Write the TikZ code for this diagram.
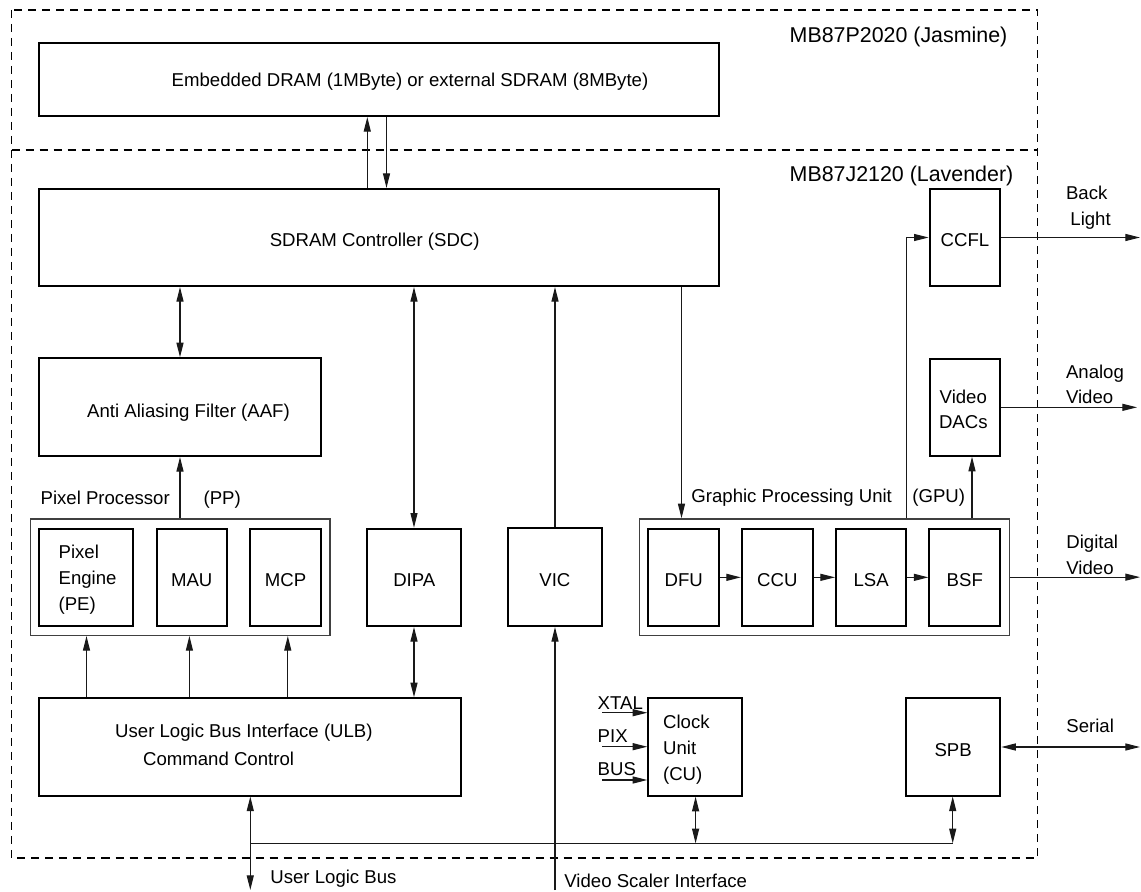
\documentclass[tikz,border=0pt]{standalone}
\usepackage{fontspec}
\setmainfont{Liberation Sans}
\usetikzlibrary{arrows.meta}
\newcommand{\blk}[7][box]{\node[#1, minimum width={(#5-#3)*0.5pt}, minimum height={(#6-#4)*0.5pt}] (#2) at ({(#3+#5)/2},{(#4+#6)/2}) {#7};}
\tikzset{
 box/.style={draw=black, line width=1pt, inner sep=0pt, font=\fontsize{9.3pt}{13pt}\selectfont, text height=9.2pt, text depth=0pt},
 frame/.style={draw=black!75, line width=0.7pt, inner sep=0pt},
 lbl/.style={inner sep=0pt, font=\fontsize{9.3pt}{13pt}\selectfont, text height=6.66pt, text depth=0pt, anchor=west},
 clbl/.style={lbl, anchor=center},
 chip/.style={lbl, font=\fontsize{10.7pt}{13pt}\selectfont, text height=7.66pt},
 wire/.style={draw=black!90, line width=0.55pt},
 arr/.style={wire, -{Triangle[length=7.3pt,width=3.5pt]}},
 dbl/.style={wire, {Triangle[length=7.3pt,width=3.5pt]}-{Triangle[length=7.3pt,width=3.5pt]}},
 dashbox/.style={draw=black, line width=0.6pt, dash pattern=on 4pt off 3pt},
}
\begin{document}
\begin{tikzpicture}[x=0.5pt,y=-0.5pt]
\useasboundingbox (0,0) rectangle (1141,892);
% chip outlines
\draw[dashbox] (11.5,10) rectangle (1037.5,858);
\draw[dashbox] (11.5,150) -- (1037.5,150);
\node[chip] (tJas) at (789.3,34.7) {MB87P2020 (Jasmine)};
\node[chip] (tLav) at (789.3,174) {MB87J2120 (Lavender)};
% blocks
\blk{emb}{39.4}{43.3}{719}{116}{}
\blk{sdc}{39.4}{189}{719}{286}{}
\blk{aaf}{39.4}{358.3}{320.7}{456}{}
\blk[frame]{pp}{30.2}{519}{329.9}{635.3}{}
\blk{pe}{39.4}{528.7}{133.2}{626}{}
\blk{mau}{156.5}{528.7}{227}{626}{MAU}
\blk{mcp}{250.3}{528.7}{320.7}{626}{MCP}
\blk{dipa}{367.4}{528.7}{461.2}{626}{DIPA}
\blk{vic}{507.8}{528.5}{602}{626}{VIC}
\blk[frame]{gpu}{639.5}{519}{1009.4}{635.3}{}
\blk{dfu}{648.2}{528.7}{719.3}{626}{DFU}
\blk{ccu}{741.9}{528.7}{812.7}{626}{CCU}
\blk{lsa}{836}{528.7}{906.4}{626}{LSA}
\blk{bsf}{929.4}{528.7}{1000.2}{626}{BSF}
\blk{ulb}{39.4}{698.3}{461.2}{795.5}{}
\blk{cu}{648.3}{698.3}{742.3}{795.7}{}
\blk{spb}{906}{698.5}{1000.2}{795.5}{SPB}
\blk{ccfl}{929.6}{189}{1000.4}{286}{CCFL}
\blk{dacs}{929.6}{359}{1000.4}{455.7}{}
% texts
\node[clbl] (tEmb) at (410,80) {Embedded DRAM (1MByte) or external SDRAM (8MByte)};
\node[clbl] (tSdc) at (374.7,240) {SDRAM Controller (SDC)};
\node[clbl] (tAaf) at (188.5,411) {Anti Aliasing Filter (AAF)};
\node[lbl] (tPP) at (40.2,497.7) {Pixel Processor};
\node[lbl] (tPP2) at (203.2,497.7) {(PP)};
\node[lbl] (tGPU) at (691,496) {Graphic Processing Unit};
\node[lbl] (tGPU2) at (912,496) {(GPU)};
\node[lbl] (tPE1) at (58.2,551.7) {Pixel};
\node[lbl] (tPE2) at (58.2,578.3) {Engine};
\node[lbl] (tPE3) at (58.2,604.3) {(PE)};
\node[lbl] (tUlb1) at (114.8,730.7) {User Logic Bus Interface (ULB)};
\node[lbl] (tUlb2) at (142.7,759.3) {Command Control};
\node[lbl] (tCu1) at (662.7,721.7) {Clock};
\node[lbl] (tCu2) at (662.7,748.3) {Unit};
\node[lbl] (tCu3) at (662.7,774.3) {(CU)};
\node[lbl] (tXtal) at (597.3,702.5) {XTAL};
\node[lbl] (tPix) at (597.3,736) {PIX};
\node[lbl] (tBus) at (597.3,769) {BUS};
\node[clbl] (tDac1) at (963.3,396.7) {Video};
\node[clbl] (tDac2) at (963.3,421.7) {DACs};
\node[lbl] (tBack) at (1065.6,192.7) {Back};
\node[lbl] (tLight) at (1070,219) {Light};
\node[lbl] (tAna) at (1065.6,371.7) {Analog};
\node[lbl] (tAnaV) at (1065.6,397) {Video};
\node[lbl] (tDig) at (1066,542.3) {Digital};
\node[lbl] (tDigV) at (1066,567.7) {Video};
\node[lbl] (tSer) at (1066,725.7) {Serial};
\node[lbl] (tULBus) at (270,876.5) {User Logic Bus};
\node[lbl] (tVSI) at (564,880.5) {Video Scaler Interface};
% helper coordinates
\coordinate (cA) at (180,0);
\coordinate (cUp) at (367.3,0);
\coordinate (cDn) at (386.5,0);
\coordinate (cD) at (414,0);
\coordinate (cV) at (555,0);
\coordinate (cG) at (681.5,0);
\coordinate (cPE) at (86.5,0);
\coordinate (cMAU) at (189.4,0);
\coordinate (cMCP) at (287.8,0);
\coordinate (cU) at (250.3,0);
\coordinate (cC) at (695.6,0);
\coordinate (cS) at (952.7,0);
\coordinate (cF) at (906.4,0);
\coordinate (cDA) at (972,0);
\coordinate (bus) at (0,843.3);
\coordinate (bot) at (0,890);
\coordinate (rEnd) at (1140,0);
\coordinate (rEndA) at (1137,0);
\coordinate (inX) at (602.3,712.7);
\coordinate (inP) at (602.3,746.7);
\coordinate (inB) at (602.3,780);
% connectors
\draw[arr] (sdc.north -| cUp) -- (emb.south -| cUp);
\draw[arr] (emb.south -| cDn) -- (sdc.north -| cDn);
\draw[dbl] (sdc.south -| cA) -- (aaf.north -| cA);
\draw[arr] (pp.north -| cA) -- (aaf.south -| cA);
\draw[dbl] (sdc.south -| cD) -- (dipa.north -| cD);
\draw[arr] (vic.north -| cV) -- (sdc.south -| cV);
\draw[arr] (sdc.south -| cG) -- (gpu.north -| cG);
\draw[arr] (ulb.north -| cPE) -- (pp.south -| cPE);
\draw[arr] (ulb.north -| cMAU) -- (pp.south -| cMAU);
\draw[arr] (ulb.north -| cMCP) -- (pp.south -| cMCP);
\draw[dbl] (dipa.south -| cD) -- (ulb.north -| cD);
\draw[dbl] (ulb.south -| cU) -- (bot -| cU);
\draw[wire] (bus -| cU) -- (bus -| cS);
\draw[dbl] (cu.south -| cC) -- (bus -| cC);
\draw[dbl] (spb.south -| cS) -- (bus -| cS);
\draw[arr] (bot -| cV) -- (vic.south -| cV);
\draw[arr] (dfu) -- (ccu);
\draw[arr] (ccu) -- (lsa);
\draw[arr] (lsa) -- (bsf);
\draw[arr] (gpu.east) -- (gpu.east -| rEnd);
\draw[arr] (gpu.north -| cF) |- (ccfl.west);
\draw[arr] (gpu.north -| cDA) -- (dacs.south -| cDA);
\draw[arr] (ccfl.east) -- (ccfl.east -| rEnd);
\draw[arr] (dacs.east) -- (dacs.east -| rEndA);
\draw[dbl] (spb.east) -- (spb.east -| rEnd);
\draw[arr] (inX) -- (inX -| cu.west);
\draw[arr] (inP) -- (inP -| cu.west);
\draw[arr] (inB) -- (inB -| cu.west);
\end{tikzpicture}
\end{document}
